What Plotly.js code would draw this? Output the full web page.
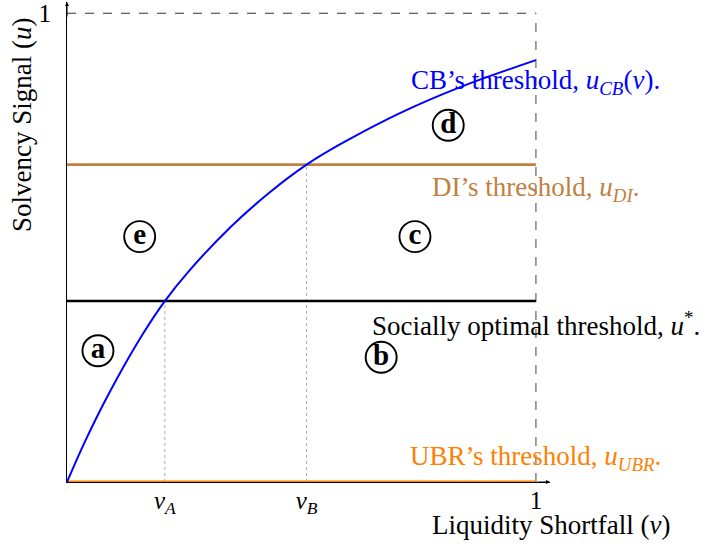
<!DOCTYPE html>
<html>
<head>
<meta charset="utf-8">
<script src="https://cdn.plot.ly/plotly-3.0.1.min.js"></script>
<style>html,body{margin:0;padding:0;background:#fff;}#chart{width:714px;height:547px;}</style>
</head>
<body>
<div id="chart"></div>
<script>
// Curve: CB's threshold u_CB(v)
const vCurve = [0, 0.04, 0.09, 0.16, 0.2086, 0.26, 0.35, 0.43, 0.511, 0.58, 0.71, 0.84, 1.0];
const uCurve = [0, 0.09, 0.19, 0.313, 0.386, 0.450, 0.545, 0.616, 0.677, 0.719, 0.787, 0.843, 0.90];

// Horizontal thresholds
const uStar = 0.386;
const uDI = 0.677;
const uUBR = 0;
const vA = 0.2086;
const vB = 0.511;

// Tick labels
const xTickVals = [vA, vB, 1];
const xTickText = ['<i>v</i><sub><i>A</i></sub>', '<i>v</i><sub><i>B</i></sub>', '1'];
const yTickVals = [1];
const yTickText = ['1'];

// Region labels
const regionText = ['a', 'b', 'c', 'd', 'e'];
const regionV = [0.066, 0.67, 0.742, 0.813, 0.155];
const regionU = [0.28, 0.266, 0.5235, 0.761, 0.5235];

// Threshold labels
const labelText = [
  "CB\u2019s threshold, <i>u</i><sub><i>CB</i></sub>(<i>v</i>).",
  "DI\u2019s threshold, <i>u</i><sub><i>DI</i></sub>.",
  "Socially optimal threshold, <i>u</i><sup>*</sup>.",
  "UBR\u2019s threshold, <i>u</i><sub><i>UBR</i></sub>."
];
const labelU = [0.853, 0.626, 0.3376, 0.052];
const labelColor = ['#0000ff', '#bf8040', '#000000', '#ff8000'];

const FONT = 'Liberation Serif, Times New Roman, serif';
const FS = 27;

const traces = [
  // dashed box
  {x: [0, 1], y: [1, 1], mode: 'lines', line: {color: '#333', width: 1.1, dash: 'dash'}},
  {x: [1, 1], y: [uUBR, 1], mode: 'lines', line: {color: '#555', width: 1.1, dash: 'dash'}},
  // dotted verticals
  {x: [vA, vA], y: [uUBR, uStar], mode: 'lines', line: {color: '#aaa', width: 1, dash: 'dot'}},
  {x: [vB, vB], y: [uUBR, uDI], mode: 'lines', line: {color: '#aaa', width: 1, dash: 'dot'}},
  // thresholds
  {x: [0, 1], y: [uDI, uDI], mode: 'lines', line: {color: '#bf8040', width: 2.6}},
  {x: [0, 1], y: [uStar, uStar], mode: 'lines', line: {color: '#000000', width: 2.6}},
  {x: [0, 1], y: [uUBR, uUBR], mode: 'lines', line: {color: '#ff8000', width: 2.8}},
  // CB curve
  {x: vCurve, y: uCurve, mode: 'lines', line: {color: '#0000ff', width: 2, shape: 'spline', smoothing: 1}},
  // region markers
  {x: regionV, y: regionU, mode: 'markers+text', text: regionText.map(t => '<b>' + t + '</b>'),
   textposition: 'middle center', textfont: {family: FONT, size: 29, color: '#000'},
   marker: {symbol: 'circle-open', size: 31, color: '#000', line: {width: 1.9, color: '#000'}},
   cliponaxis: false}
];
traces.forEach(t => { t.showlegend = false; t.hoverinfo = 'skip'; });

const annotations = labelText.map((t, i) => ({
  x: 1, y: labelU[i], xref: 'x', yref: 'y', text: t, showarrow: false,
  xanchor: 'center', yanchor: 'middle', font: {family: FONT, size: FS, color: labelColor[i]}
}));
// axis titles
annotations.push({x: -0.093, y: 0.744, xref: 'paper', yref: 'paper', text: 'Solvency Signal (<i>u</i>)',
  textangle: -90, showarrow: false, xanchor: 'center', yanchor: 'middle', font: {family: FONT, size: FS, color: '#000'}});
annotations.push({x: 1.002, y: -0.09, xref: 'paper', yref: 'paper', text: 'Liquidity Shortfall (<i>v</i>)',
  showarrow: false, xanchor: 'center', yanchor: 'middle', font: {family: FONT, size: FS, color: '#000'}});
// axis arrowheads
annotations.push({x: 1.03, y: 0, xref: 'x', yref: 'y', ax: 1.0, ay: 0, axref: 'x', ayref: 'y', text: '',
  showarrow: true, arrowhead: 2, arrowsize: 0.8, arrowwidth: 1, arrowcolor: '#000'});
annotations.push({x: 0, y: 1.024, xref: 'x', yref: 'y', ax: 0, ay: 0.99, axref: 'x', ayref: 'y', text: '',
  showarrow: true, arrowhead: 2, arrowsize: 0.8, arrowwidth: 1, arrowcolor: '#000'});

const layout = {
  width: 714, height: 547,
  margin: {l: 67, r: 164, t: 2, b: 65, pad: 0},
  paper_bgcolor: '#fff', plot_bgcolor: '#fff',
  hovermode: false,
  showlegend: false,
  font: {family: FONT, size: FS, color: '#000'},
  xaxis: {range: [0, 1.03], showgrid: false, zeroline: false, showline: true, linecolor: '#000', linewidth: 1,
    tickvals: xTickVals, ticktext: xTickText, ticks: '', ticklabelstandoff: -4, tickfont: {family: FONT, size: 25}, fixedrange: true},
  yaxis: {range: [0, 1.024], showgrid: false, zeroline: false, showline: true, linecolor: '#000', linewidth: 1,
    tickvals: yTickVals, ticktext: yTickText, ticks: '', ticklabelstandoff: 10, tickfont: {family: FONT, size: 25}, fixedrange: true},
  annotations: annotations
};

Plotly.newPlot('chart', traces, layout, {displayModeBar: false, staticPlot: true});
</script>
</body>
</html>
